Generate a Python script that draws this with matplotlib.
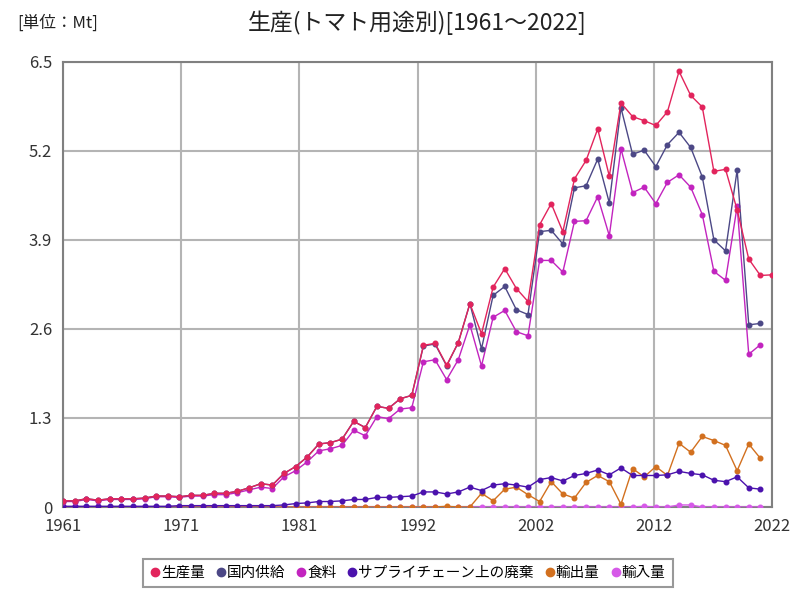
import numpy as np
import matplotlib
matplotlib.use('Agg')
import matplotlib.pyplot as plt
from matplotlib.lines import Line2D

plt.rcParams['font.family'] = ['Noto Sans CJK JP', 'DejaVu Sans']

years = list(range(1961, 2023))

production = [0.09, 0.09, 0.12, 0.10, 0.12, 0.12, 0.12, 0.13, 0.16, 0.16,
              0.15, 0.17, 0.17, 0.20, 0.20, 0.23, 0.28, 0.34, 0.32, 0.49,
              0.59, 0.73, 0.92, 0.94, 0.99, 1.25, 1.16, 1.47, 1.44, 1.58,
              1.63, 2.36, 2.39, 2.07, 2.40, 2.97, 2.53, 3.21, 3.48, 3.19,
              3.00, 4.12, 4.43, 4.02, 4.79, 5.06, 5.52, 4.83, 5.90, 5.70,
              5.64, 5.57, 5.77, 6.36, 6.01, 5.84, 4.90, 4.93, 4.34, 3.62,
              3.38, 3.39]

domestic = [0.09, 0.09, 0.12, 0.10, 0.12, 0.12, 0.12, 0.13, 0.16, 0.16,
            0.15, 0.17, 0.17, 0.20, 0.20, 0.23, 0.28, 0.34, 0.32, 0.49,
            0.59, 0.73, 0.92, 0.94, 0.99, 1.25, 1.16, 1.47, 1.44, 1.58,
            1.63, 2.35, 2.38, 2.06, 2.40, 2.97, 2.31, 3.09, 3.22, 2.88,
            2.81, 4.02, 4.04, 3.84, 4.66, 4.69, 5.08, 4.44, 5.83, 5.15,
            5.21, 4.97, 5.29, 5.47, 5.25, 4.82, 3.90, 3.74, 4.92, 2.66,
            2.68]

food = [0.08, 0.08, 0.11, 0.09, 0.11, 0.11, 0.11, 0.12, 0.15, 0.15,
        0.14, 0.16, 0.16, 0.18, 0.18, 0.21, 0.25, 0.29, 0.27, 0.44,
        0.53, 0.66, 0.82, 0.85, 0.90, 1.12, 1.04, 1.32, 1.29, 1.43,
        1.45, 2.12, 2.15, 1.86, 2.15, 2.66, 2.06, 2.77, 2.87, 2.56,
        2.50, 3.60, 3.60, 3.43, 4.17, 4.18, 4.53, 3.96, 5.23, 4.59,
        4.67, 4.43, 4.74, 4.85, 4.67, 4.27, 3.44, 3.31, 4.39, 2.23,
        2.37]

waste = [0.01, 0.01, 0.01, 0.01, 0.01, 0.01, 0.01, 0.01, 0.01, 0.01,
         0.02, 0.02, 0.02, 0.02, 0.02, 0.02, 0.02, 0.02, 0.02, 0.03,
         0.05, 0.06, 0.08, 0.08, 0.09, 0.11, 0.11, 0.14, 0.14, 0.15,
         0.16, 0.22, 0.22, 0.19, 0.22, 0.29, 0.24, 0.32, 0.34, 0.32,
         0.29, 0.40, 0.43, 0.38, 0.46, 0.49, 0.54, 0.47, 0.57, 0.46,
         0.46, 0.46, 0.47, 0.52, 0.49, 0.47, 0.39, 0.37, 0.44, 0.28,
         0.26]

exports = [0.00, 0.00, 0.00, 0.00, 0.00, 0.00, 0.00, 0.00, 0.00, 0.00,
           0.00, 0.00, 0.00, 0.00, 0.00, 0.00, 0.00, 0.00, 0.00, 0.00,
           0.00, 0.00, 0.00, 0.00, 0.00, 0.00, 0.00, 0.00, 0.00, 0.00,
           0.00, 0.00, 0.00, 0.01, 0.00, 0.00, 0.20, 0.09, 0.26, 0.29,
           0.18, 0.08, 0.37, 0.19, 0.13, 0.36, 0.46, 0.37, 0.04, 0.56,
           0.44, 0.59, 0.46, 0.93, 0.80, 1.03, 0.97, 0.90, 0.53, 0.92,
           0.71]

imports = [0.00, 0.00, 0.00, 0.00, 0.00, 0.00, 0.00, 0.00, 0.00, 0.00,
           0.00, 0.00, 0.00, 0.00, 0.00, 0.00, 0.00, 0.00, 0.00, 0.00,
           0.00, 0.00, 0.00, 0.00, 0.00, 0.00, 0.00, 0.00, 0.00, 0.00,
           0.00, 0.00, 0.00, 0.00, 0.00, 0.00, 0.00, 0.00, 0.00, 0.00,
           0.00, 0.00, 0.00, 0.00, 0.00, 0.00, 0.00, 0.00, 0.00, 0.00,
           0.01, 0.00, 0.00, 0.03, 0.03, 0.00, 0.00, 0.00, 0.00, 0.00,
           0.00]

labels = ['生産量', '国内供給', '食料', 'サプライチェーン上の廃棄', '輸出量', '輸入量']
colors = ['#e2245c', '#4c4886', '#c224bf', '#4b12ad', '#d2701f', '#d65ae8']
series = [production, domestic, food, waste, exports, imports]

fig = plt.figure(figsize=(8, 6), dpi=100)
ax = fig.add_axes([0.079, 0.155, 0.886, 0.742])

# first series on top
n = len(series)
for i, (vals, c) in enumerate(zip(series, colors)):
    ax.plot(years[:len(vals)], vals, color=c, lw=1, marker='o', ms=3.3,
            zorder=10 + n - i)

ax.set_xlim(1961, 2022)
ax.set_ylim(0, 6.5)
xt = np.linspace(1961, 2022, 7)
ax.set_xticks(xt)
ax.set_xticklabels([str(int(round(v))) for v in xt])
yt = np.linspace(0, 6.5, 6)
ax.set_yticks(yt)
ax.set_yticklabels(['0'] + [f'{v:.1f}' for v in yt[1:]])
ax.grid(True, color='#b4b4b4', lw=1.5)
ax.set_axisbelow(True)
for s in ax.spines.values():
    s.set_color('#808080')
    s.set_linewidth(1.5)
ax.tick_params(length=0, labelsize=12, colors='#333333', pad=8)

fig.text(0.521, 0.962, '生産(トマト用途別)[1961～2022]', ha='center', va='center',
         fontsize=16.5, color='#222222')
fig.text(0.022, 0.962, '[単位：Mt]', ha='left', va='center', fontsize=12,
         color='#222222')

handles = [Line2D([], [], color=c, marker='o', ls='', ms=6) for c in colors]
leg = fig.legend(handles, labels, loc='center', bbox_to_anchor=(0.51, 0.045),
                 ncol=6, fontsize=10.5, frameon=True, fancybox=False,
                 handlelength=0.6, handletextpad=0.1, columnspacing=0.8,
                 borderpad=0.5)
leg.get_frame().set_edgecolor('#808080')
leg.get_frame().set_linewidth(1.5)

fig.savefig('out.png', dpi=100)
